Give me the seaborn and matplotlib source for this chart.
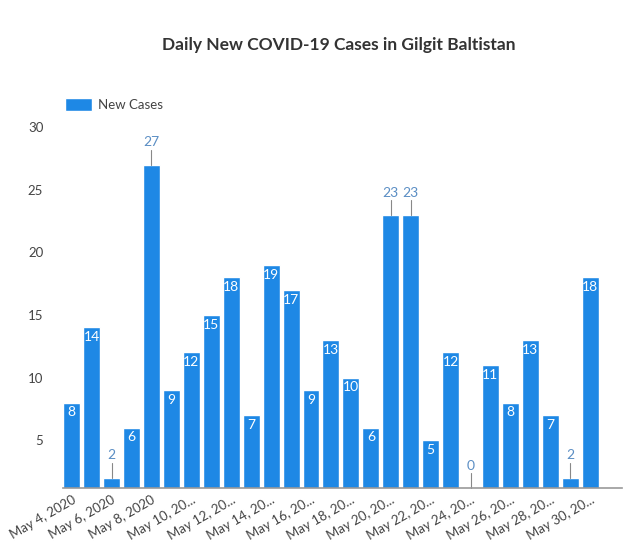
import seaborn as sns
import matplotlib.pyplot as plt
import pandas as pd

# Daily new cases, May 4 - May 30, 2020
dates = ["May %d, 2020" % d for d in range(4, 31)]
cases = [8, 14, 2, 6, 27, 9, 12, 15, 18, 7, 19, 17, 9, 13, 10, 6,
         23, 23, 5, 12, 0, 11, 8, 13, 7, 2, 18]
tick_labels = ["May 4, 2020", "May 6, 2020", "May 8, 2020", "May 10, 20...",
               "May 12, 20...", "May 14, 20...", "May 16, 20...", "May 18, 20...",
               "May 20, 20...", "May 22, 20...", "May 24, 20...", "May 26, 20...",
               "May 28, 20...", "May 30, 20..."]

df = pd.DataFrame({"date": dates, "cases": cases})

sns.set_style("white")
plt.rcParams["font.family"] = ["Lato", "DejaVu Sans"]

blue = "#1e88e5"
fig = plt.figure(figsize=(6.4, 5.53), dpi=100)
ax = fig.add_axes([0.098, 0.1175, 0.874, 0.6525])

sns.barplot(data=df, x="date", y="cases", color=blue, width=0.85,
            saturation=1, ax=ax, label="New Cases")

ax.set_ylim(1.17, 30)
ax.set_xlim(-0.45, 27.6)
ax.set_yticks([5, 10, 15, 20, 25, 30])
ax.tick_params(axis="y", length=0, labelsize=9.5, labelcolor="#444444", pad=14)
ax.set_xticks(range(0, 27, 2))
ax.set_xticklabels(tick_labels, rotation=30, ha="right", rotation_mode="anchor",
                   fontsize=9.5, color="#444444")
ax.tick_params(axis="x", length=0, pad=4)
ax.set_xlabel("")
ax.set_ylabel("")
for s in ["top", "right", "left"]:
    ax.spines[s].set_visible(False)
ax.spines["bottom"].set_color("#999999")
ax.spines["bottom"].set_linewidth(1.2)

# value labels
for i, v in enumerate(cases):
    if v < 3 or v > 20:
        base = max(v, 1.17)
        ax.plot([i, i], [base, base + 1.2], color="#888888", lw=0.8, clip_on=False)
        ax.text(i, base + 1.3, str(v), ha="center", va="bottom", fontsize=10,
                color="#5b8ec4", clip_on=False)
    else:
        ax.text(i, v - 0.3, str(v), ha="center", va="top", fontsize=10,
                color="white")

leg = ax.legend(loc="lower left", bbox_to_anchor=(-0.005, 1.03), frameon=False,
                fontsize=9.5, handlelength=2.0, handleheight=1.1, borderaxespad=0,
                handletextpad=0.5)
for t in leg.get_texts():
    t.set_color("#444444")

fig.text(0.53, 0.918, "Daily New COVID-19 Cases in Gilgit Baltistan", ha="center",
         va="center", fontsize=12.5, fontweight="bold", color="#333333")

fig.savefig("out.png", dpi=100)
